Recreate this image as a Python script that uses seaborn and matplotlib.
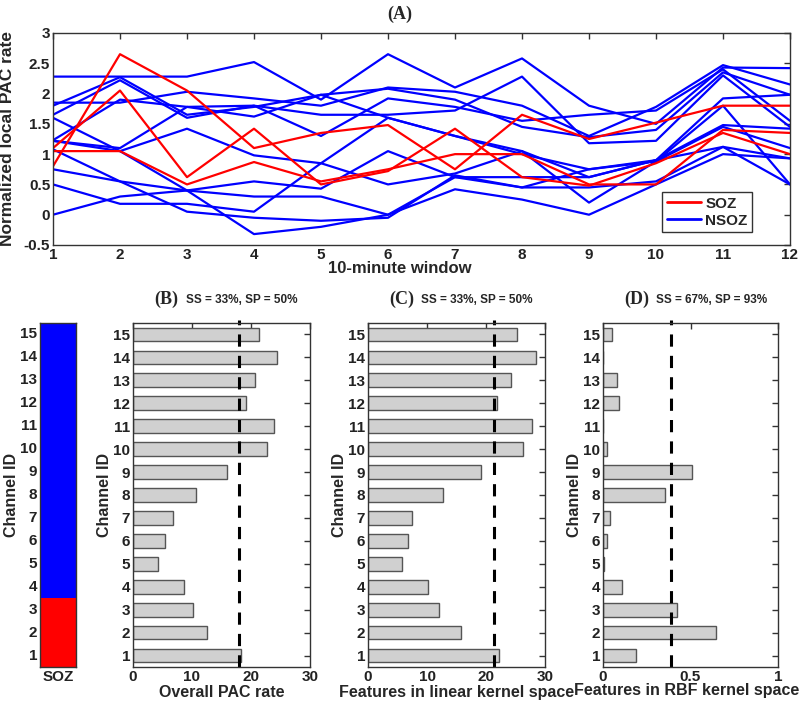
import matplotlib
matplotlib.use("Agg")
import matplotlib.pyplot as plt
import seaborn as sns
import pandas as pd
import numpy as np
from matplotlib.colors import ListedColormap
from matplotlib.lines import Line2D

# windows on the x axis of panel A
windows = list(range(1, 13))

# normalized local PAC rate per channel (SOZ = channels 1-3)
soz_rates = [
    [0.80, 2.65, 2.05, 1.10, 1.35, 1.48, 0.75, 1.65, 1.25, 1.52, 1.80, 1.80],
    [1.05, 1.05, 0.50, 0.87, 0.55, 0.75, 1.00, 1.00, 0.50, 0.50, 1.40, 1.35],
    [1.10, 2.05, 0.62, 1.42, 0.50, 0.72, 1.42, 0.62, 0.48, 0.85, 1.35, 1.00],
]
nsoz_rates = [
    [2.28, 2.28, 2.28, 2.52, 1.90, 2.65, 2.10, 2.58, 1.80, 1.50, 2.43, 2.42],
    [1.85, 1.85, 2.03, 1.92, 1.80, 2.10, 2.03, 1.80, 1.30, 1.78, 2.47, 2.15],
    [1.80, 2.27, 1.65, 1.78, 1.98, 2.08, 1.90, 1.45, 1.28, 1.40, 2.35, 1.98],
    [1.65, 2.22, 1.60, 1.80, 1.30, 1.92, 1.78, 1.55, 1.65, 1.72, 2.40, 1.55],
    [1.23, 1.90, 1.78, 1.80, 1.65, 1.65, 1.72, 2.28, 1.18, 1.22, 2.30, 1.45],
    [1.22, 1.10, 1.78, 1.62, 1.98, 1.60, 1.30, 1.05, 0.62, 0.90, 1.92, 1.98],
    [1.60, 1.05, 1.42, 0.98, 0.85, 0.50, 0.68, 1.05, 0.20, 0.88, 1.80, 0.50],
    [0.75, 0.55, 0.40, 0.55, 0.43, 1.05, 0.62, 0.45, 0.75, 0.88, 1.45, 1.10],
    [0.50, 0.18, 0.18, 0.05, 0.85, 1.60, 1.30, 1.00, 0.75, 0.90, 1.12, 0.93],
    [0.00, 0.30, 0.40, 0.30, 0.30, 0.00, 0.42, 0.25, 0.00, 0.50, 1.00, 0.93],
    [1.08, 0.55, 0.05, -0.05, -0.10, -0.05, 0.65, 0.45, 0.45, 0.55, 1.12, 0.50],
    [1.22, 1.05, 0.40, -0.32, -0.20, 0.00, 0.62, 0.62, 0.62, 0.90, 1.48, 1.42],
]

# channel-wise values for panels B, C, D (channel 1..15)
channels = list(range(1, 16))
soz_flag = [1, 1, 1, 0, 0, 0, 0, 0, 0, 0, 0, 0, 0, 0, 0]
overall_pac = [18.3, 12.6, 10.2, 8.6, 4.3, 5.4, 6.8, 10.6, 15.9, 22.7, 23.9, 19.1, 20.7, 24.4, 21.4]
linear_kernel = [22.2, 15.8, 12.1, 10.2, 5.8, 6.8, 7.5, 12.7, 19.2, 26.3, 27.8, 21.9, 24.2, 28.5, 25.2]
rbf_kernel = [0.19, 0.645, 0.425, 0.11, 0.005, 0.025, 0.04, 0.355, 0.51, 0.02, 0.0, 0.09, 0.08, 0.0, 0.05]
thresholds = [18.0, 21.3, 0.39]
panel_letters = ["(B)", "(C)", "(D)"]
panel_scores = ["SS = 33%, SP = 50%", "SS = 33%, SP = 50%", "SS = 67%, SP = 93%"]
panel_xlabels = ["Overall PAC rate", "Features in linear kernel space", "Features in RBF kernel space"]
panel_xlims = [(0, 30), (0, 30), (0, 1)]
panel_xticks = [[0, 10, 20, 30], [0, 10, 20, 30], [0, 0.5, 1]]
panel_xticklabels = [["0", "10", "20", "30"], ["0", "10", "20", "30"], ["0", "0.5", "1"]]

sns.set_style("white")
plt.rcParams["font.family"] = ["Liberation Sans", "DejaVu Sans"]
plt.rcParams["font.weight"] = "bold"
plt.rcParams["axes.labelweight"] = "bold"

W, H = 800, 702
SERIF = ["Liberation Serif", "DejaVu Serif"]


def px(l, t, r, b):
    return [l / W, 1 - b / H, (r - l) / W, (b - t) / H]


def matlab_box(ax):
    for s in ax.spines.values():
        s.set_visible(True)
        s.set_color("#333333")
        s.set_linewidth(1.0)
    ax.tick_params(direction="in", top=True, right=True, length=4, width=1,
                   labelsize=11, colors="#333333", labelcolor="#222222", pad=2)
    for lab in ax.get_xticklabels() + ax.get_yticklabels():
        lab.set_fontweight("bold")


fig = plt.figure(figsize=(8, 7.02), dpi=100)

# ---- panel A
rows = []
for i, r in enumerate(soz_rates):
    for w, v in zip(windows, r):
        rows.append({"window": w, "rate": v, "channel": i + 1, "group": "SOZ"})
for i, r in enumerate(nsoz_rates):
    for w, v in zip(windows, r):
        rows.append({"window": w, "rate": v, "channel": i + 4, "group": "NSOZ"})
df = pd.DataFrame(rows)

axA = fig.add_axes(px(53, 33, 790, 245))
sns.lineplot(data=df, x="window", y="rate", units="channel", hue="group",
             estimator=None, palette={"SOZ": "#ff0000", "NSOZ": "#0000ff"},
             hue_order=["NSOZ", "SOZ"], lw=1.6, ax=axA, legend=False)
axA.set_xlim(1, 12)
axA.set_ylim(-0.5, 3)
axA.set_xticks(windows)
axA.set_yticks(np.arange(-0.5, 3.01, 0.5))
axA.set_yticklabels(["-0.5", "0", "0.5", "1", "1.5", "2", "2.5", "3"])
axA.set_xlabel("10-minute window", fontsize=12, labelpad=1)
axA.set_ylabel("Normalized local PAC rate", fontsize=12.5)
matlab_box(axA)
axA.yaxis.set_label_coords(-0.052, 0.5)
axA.xaxis.set_label_coords(0.47, -0.075)
handles = [Line2D([], [], color="#ff0000", lw=2), Line2D([], [], color="#0000ff", lw=2)]
leg = axA.legend(handles, ["SOZ", "NSOZ"], loc="lower right", bbox_to_anchor=(0.959, 0.024),
                 fancybox=False, edgecolor="black", handlelength=2.2, handletextpad=0.3,
                 borderpad=0.3, labelspacing=0.2, prop={"weight": "bold", "size": 11})
leg.get_frame().set_linewidth(1.0)
fig.text(400 / W, 1 - 14 / H, "(A)", ha="center", va="center", fontsize=13,
         fontweight="bold", family=SERIF)

# ---- SOZ strip
ax0 = fig.add_axes(px(40, 323, 76, 667))
strip = np.array(soz_flag[::-1]).reshape(-1, 1)
sns.heatmap(strip, cmap=ListedColormap(["#0000ff", "#ff0000"]), vmin=0, vmax=1,
            cbar=False, ax=ax0, xticklabels=["SOZ"], yticklabels=[str(c) for c in channels[::-1]])
ax0.set_ylabel("Channel ID", fontsize=11.5, labelpad=1)
matlab_box(ax0)
ax0.tick_params(axis="y", rotation=0)
ax0.tick_params(axis="x", length=0, rotation=0)

# ---- panels B, C, D
lefts = [(133, 310), (368, 545), (603, 778)]
values = [overall_pac, linear_kernel, rbf_kernel]
order = [str(c) for c in channels[::-1]]
for k in range(3):
    l, r = lefts[k]
    ax = fig.add_axes(px(l, 323, r, 667))
    bdf = pd.DataFrame({"channel": [str(c) for c in channels], "value": values[k]})
    sns.barplot(data=bdf, x="value", y="channel", order=order, orient="h",
                color="#d0d0d0", edgecolor="#555555", linewidth=1.0, width=0.6,
                saturation=1, ax=ax)
    ax.axvline(thresholds[k], ymin=0, ymax=1.01, color="black", ls=(0, (4, 3)),
               lw=2.2, clip_on=False)
    ax.set_xlim(*panel_xlims[k])
    ax.set_xticks(panel_xticks[k])
    ax.set_xticklabels(panel_xticklabels[k])
    ax.set_xlabel(panel_xlabels[k], fontsize=11.5, labelpad=1)
    ax.set_ylabel("Channel ID", fontsize=11.5, labelpad=1)
    matlab_box(ax)
    if k == 2:
        ax.xaxis.set_label_coords(0.475, -0.047)
    ax.text(0.12, 1.045, panel_letters[k], transform=ax.transAxes, ha="left", va="bottom",
            fontsize=13, fontweight="bold", family=SERIF)
    ax.text(0.3, 1.05, panel_scores[k], transform=ax.transAxes, ha="left", va="bottom",
            fontsize=8.5, fontweight="bold")

fig.savefig("out.png", dpi=100)
